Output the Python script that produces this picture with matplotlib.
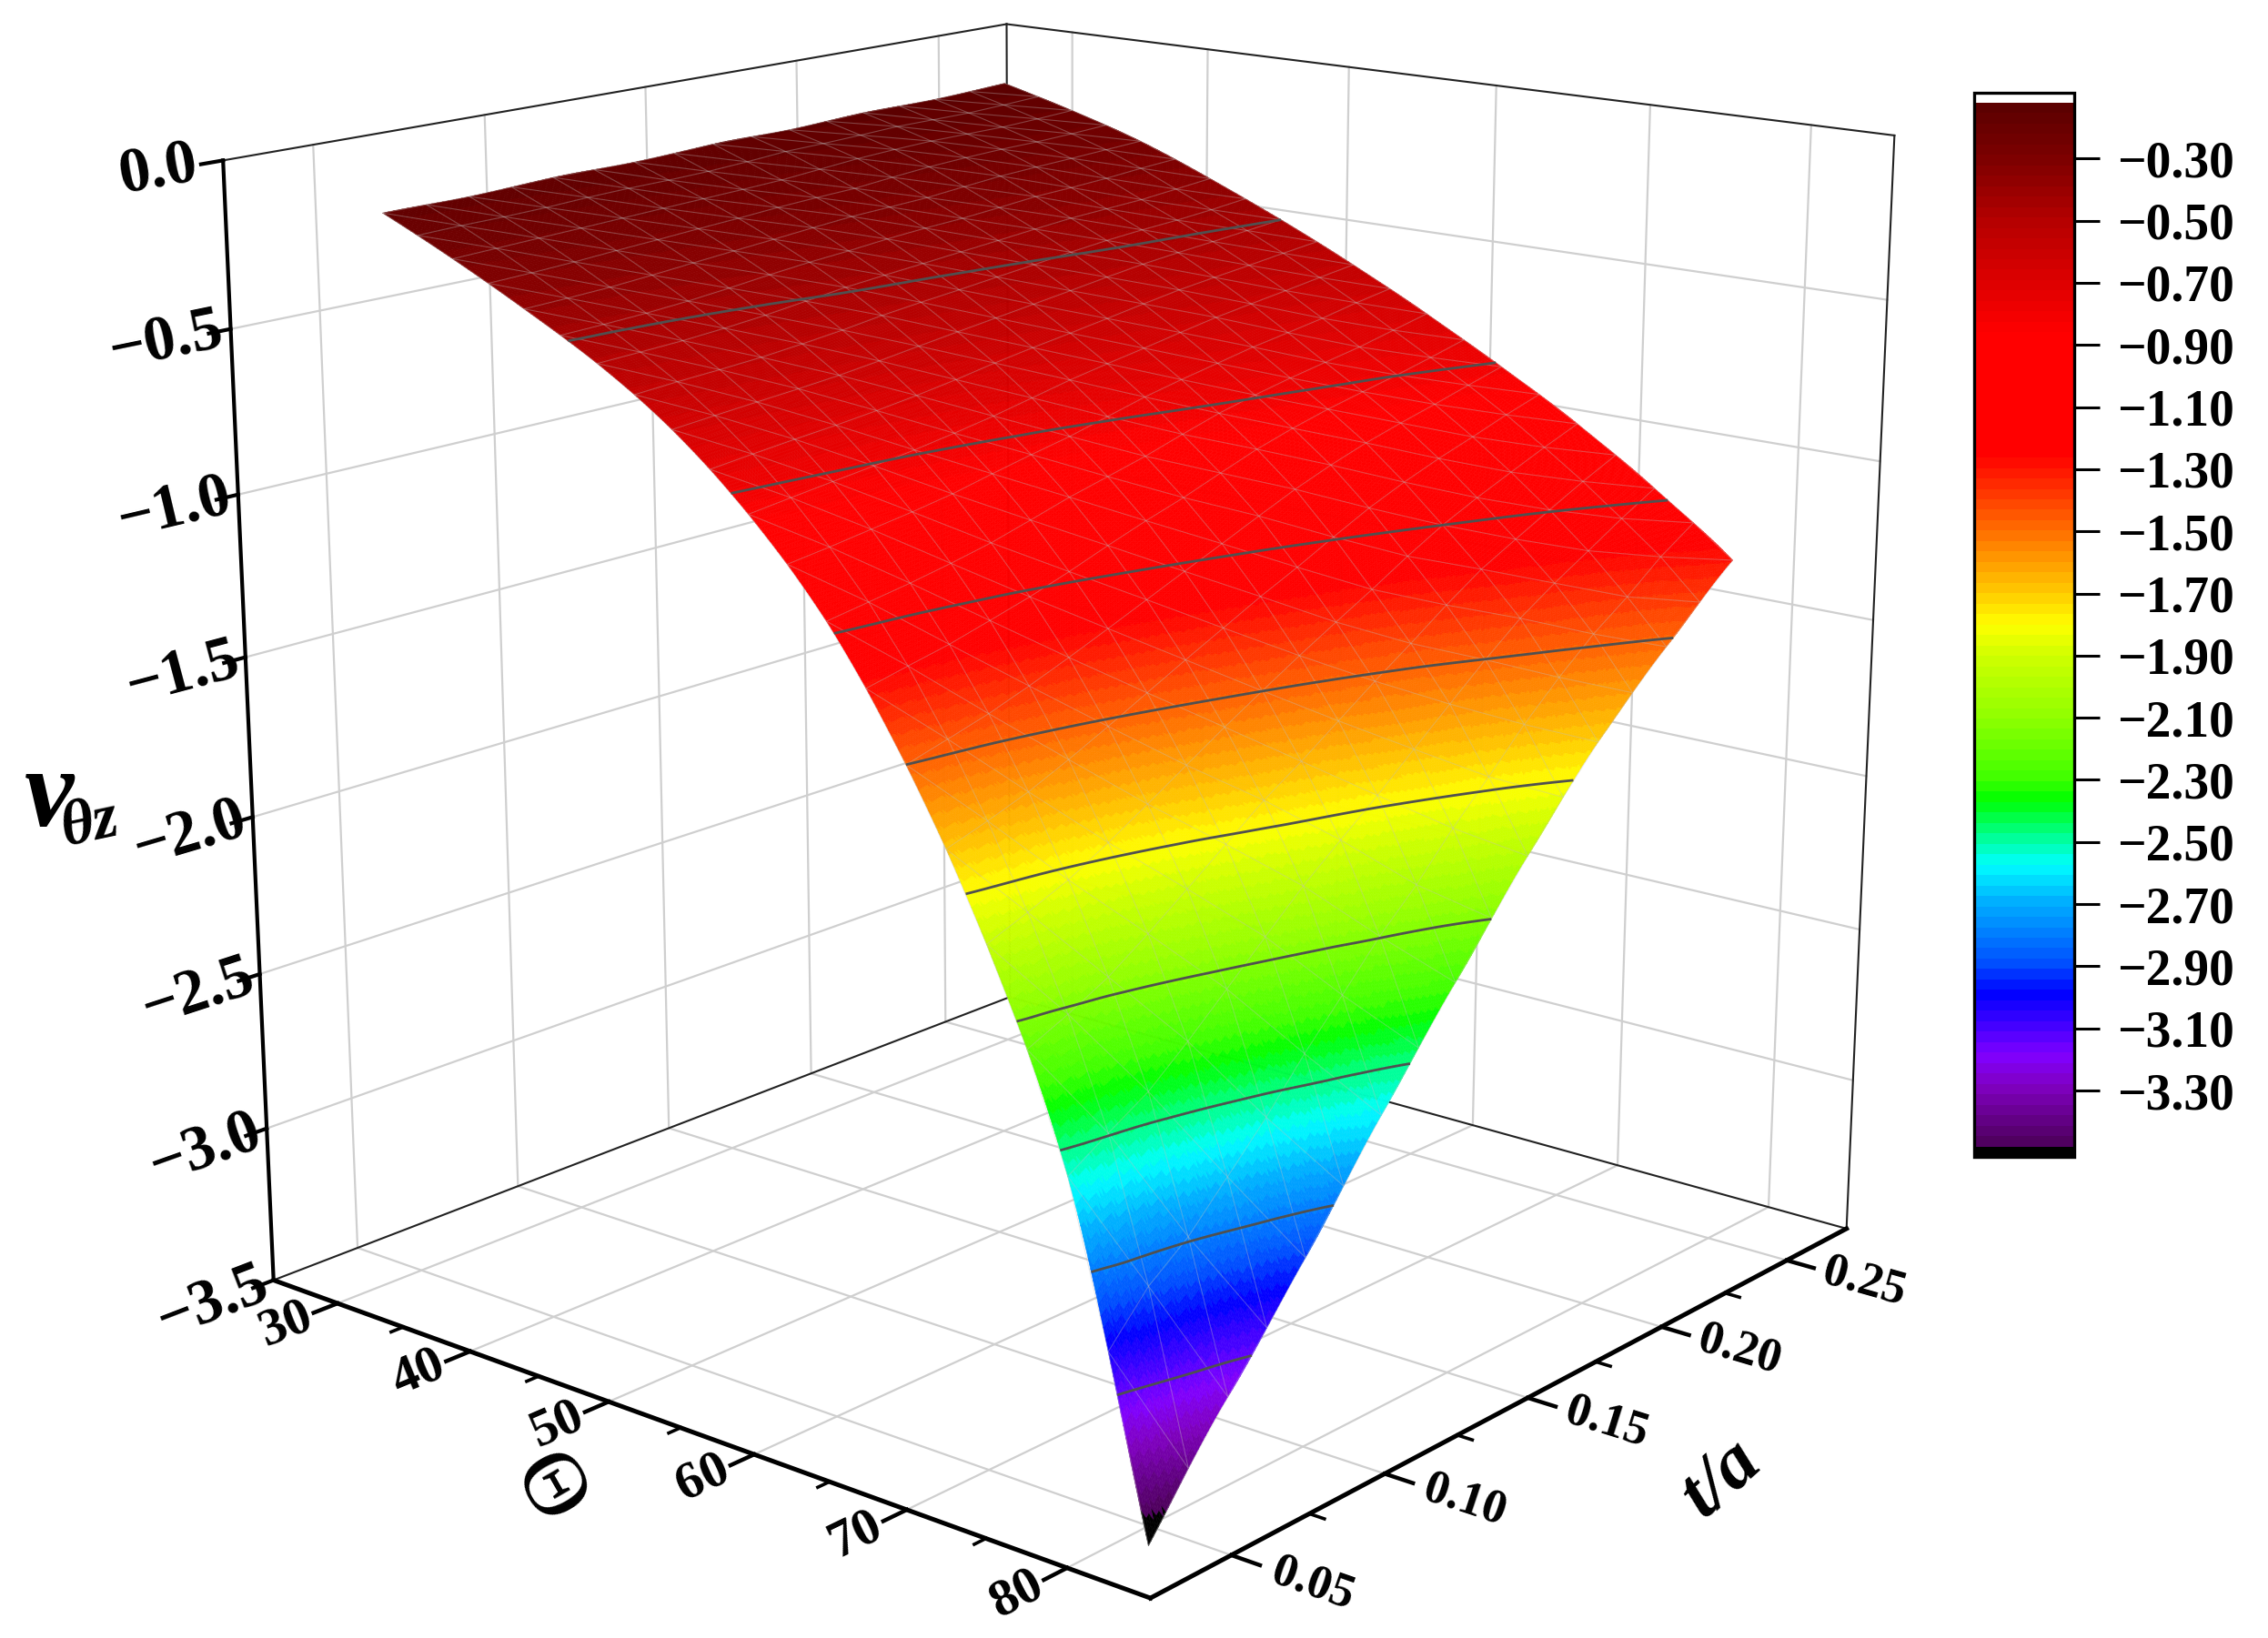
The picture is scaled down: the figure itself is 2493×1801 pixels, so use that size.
import numpy as np
import matplotlib
matplotlib.use("Agg")
import matplotlib.pyplot as plt
import matplotlib.tri as mtri
from matplotlib.colors import LinearSegmentedColormap, BoundaryNorm
from matplotlib.cm import ScalarMappable
from mpl_toolkits.mplot3d.art3d import Line3DCollection

plt.rcParams['font.family'] = ['Liberation Serif', 'DejaVu Serif']
plt.rcParams['font.weight'] = 'bold'

theta = [30, 35, 40, 45, 50, 55, 60, 65, 70, 75, 80]
t_a = [0.05, 0.075, 0.10, 0.125, 0.15, 0.175, 0.20, 0.225, 0.25]
nu = [
    [-0.17, -0.17, -0.16, -0.16, -0.15, -0.15, -0.14, -0.14, -0.13],
    [-0.27, -0.26, -0.25, -0.24, -0.23, -0.21, -0.20, -0.20, -0.19],
    [-0.38, -0.37, -0.35, -0.33, -0.31, -0.30, -0.28, -0.27, -0.26],
    [-0.50, -0.49, -0.47, -0.44, -0.42, -0.40, -0.38, -0.37, -0.35],
    [-0.65, -0.63, -0.61, -0.58, -0.55, -0.52, -0.49, -0.47, -0.45],
    [-0.85, -0.82, -0.79, -0.75, -0.70, -0.66, -0.62, -0.59, -0.56],
    [-1.11, -1.07, -1.02, -0.95, -0.89, -0.82, -0.77, -0.73, -0.68],
    [-1.47, -1.40, -1.31, -1.21, -1.11, -1.01, -0.93, -0.87, -0.81],
    [-1.93, -1.83, -1.69, -1.54, -1.40, -1.27, -1.14, -1.04, -0.95],
    [-2.54, -2.39, -2.18, -1.96, -1.77, -1.57, -1.38, -1.24, -1.11],
    [-3.56, -3.23, -2.92, -2.59, -2.28, -1.98, -1.71, -1.49, -1.29],
]
contour_levels = [-3.14, -2.80, -2.47, -2.13, -1.80, -1.47, -1.14, -0.80, -0.45]

x_major = [30, 40, 50, 60, 70, 80]
x_minor = [35, 45, 55, 65, 75]
y_major = [0.05, 0.10, 0.15, 0.20, 0.25]
y_minor = [0.075, 0.125, 0.175, 0.225]
y_labels = ['0.05', '0.10', '0.15', '0.20', '0.25']
z_major = [-3.5, -3.0, -2.5, -2.0, -1.5, -1.0, -0.5, 0.0]
z_labels = ['\u22123.5', '\u22123.0', '\u22122.5', '\u22122.0', '\u22121.5', '\u22121.0', '\u22120.5', '0.0']
cbar_ticks = [-0.30, -0.50, -0.70, -0.90, -1.10, -1.30, -1.50, -1.70, -1.90,
              -2.10, -2.30, -2.50, -2.70, -2.90, -3.10, -3.30]
cbar_labels = ['\u2212%.2f' % abs(v) for v in cbar_ticks]

# colours along the colour bar
stop_z = [-3.48, -3.3, -3.2, -3.1, -3.0, -2.9, -2.7, -2.58, -2.5, -2.37, -2.3, -2.1, -1.9, -1.8,
          -1.7, -1.5, -1.25, -0.85, -0.7, -0.5, -0.3, -0.12]
stop_c = ['#500060', '#8000c0', '#8000ff', '#4000ff', '#0000ff', '#0050ff', '#00b0ff', '#00ffff',
          '#00ffa0', '#00ff00', '#40ff00', '#90ff00', '#d0ff00', '#ffff00',
          '#ffcc00', '#ff7000', '#ff0000', '#ff0000',
          '#e00000', '#b80000', '#800000', '#5c0000']

xlo, xhi = 25, 85
ylo, yhi = 0.025, 0.275
zlo, zhi = -3.5, 0.0

zlow, zhigh = stop_z[0], stop_z[-1]
fracs = [(v - zlow) / (zhigh - zlow) for v in stop_z]
cmap = LinearSegmentedColormap.from_list('nu', list(zip(fracs, stop_c)), N=100)
cmap.set_over('white')
cmap.set_under('black')
norm = BoundaryNorm(np.linspace(zlow, zhigh, 101), 100)

fig = plt.figure(figsize=(24.93, 18.01), dpi=100)
ax = fig.add_axes([0.0339, -0.0443, 0.8527, 1.1804], projection='3d', computed_zorder=False)
ax.set_proj_type('persp', focal_length=0.5)
ax.view_init(elev=16, azim=-50)
ax.set_box_aspect((1, 1, 1.0), zoom=1.0)
ax.set_xlim(xlo, xhi, view_margin=0)
ax.set_ylim(ylo, yhi, view_margin=0)
ax.set_zlim(zlo, zhi, view_margin=0)
ax.set_axis_off()

# surface, refined by the tri module for smooth colour bands
X, Y = np.meshgrid(theta, t_a, indexing='ij')
Z = np.array(nu)
nx, ny = len(theta), len(t_a)
tris = []
for i in range(nx - 1):
    for j in range(ny - 1):
        a = i * ny + j
        tris.append([a, a + ny, a + ny + 1])
        tris.append([a, a + ny + 1, a + 1])
# scaled plane so the cubic fit is not skewed by the units
tri0 = mtri.Triangulation(X.ravel() / 50, Y.ravel() / 0.2, tris)
interp = mtri.CubicTriInterpolator(tri0, Z.ravel(), kind='geom')
refiner = mtri.UniformTriRefiner(tri0)
fine, z_fine = refiner.refine_field(Z.ravel(), triinterpolator=interp, subdiv=5)
mesh, z_mesh = refiner.refine_field(Z.ravel(), triinterpolator=interp, subdiv=1)
fine3 = mtri.Triangulation(fine.x * 50, fine.y * 0.2, fine.triangles)

# walls and floor grid
gc = '#cfcfcf'
glw = 1.6
for v in x_major:
    ax.plot([v, v], [ylo, yhi], [zlo, zlo], color=gc, lw=glw, zorder=1)
    ax.plot([v, v], [yhi, yhi], [zlo, zhi], color=gc, lw=glw, zorder=1)
for v in y_major:
    ax.plot([xlo, xhi], [v, v], [zlo, zlo], color=gc, lw=glw, zorder=1)
    ax.plot([xlo, xlo], [v, v], [zlo, zhi], color=gc, lw=glw, zorder=1)
for v in z_major[1:-1]:
    ax.plot([xlo, xlo], [ylo, yhi], [v, v], color=gc, lw=glw, zorder=1)
    ax.plot([xlo, xhi], [yhi, yhi], [v, v], color=gc, lw=glw, zorder=1)

# thin box edges
for a, b, c in [([xlo, xlo], [ylo, yhi], [zhi, zhi]), ([xlo, xhi], [yhi, yhi], [zhi, zhi]),
                ([xlo, xlo], [ylo, yhi], [zlo, zlo]), ([xlo, xhi], [yhi, yhi], [zlo, zlo]),
                ([xlo, xlo], [yhi, yhi], [zlo, zhi]), ([xhi, xhi], [yhi, yhi], [zlo, zhi])]:
    ax.plot(a, b, c, color='#222222', lw=1.5, zorder=2)

surf = ax.plot_trisurf(fine3, z_fine, cmap=cmap, norm=norm, linewidth=0.4,
                       antialiased=True, zorder=3)
surf.set_edgecolor('face')

segs = []
for i, j in mesh.edges:
    segs.append([(mesh.x[i] * 50, mesh.y[i] * 0.2, z_mesh[i]),
                 (mesh.x[j] * 50, mesh.y[j] * 0.2, z_mesh[j])])
ax.add_collection3d(Line3DCollection(segs, colors='#c0c0c0', linewidths=0.8, alpha=0.35, zorder=4))

ax.tricontour(fine3, z_fine, levels=contour_levels, colors='#505050', linewidths=2.0,
              linestyles='solid', zorder=5)

# heavy axes
ax.plot([xlo, xhi], [ylo, ylo], [zlo, zlo], color='k', lw=3.6, zorder=6)
ax.plot([xhi, xhi], [ylo, yhi], [zlo, zlo], color='k', lw=3.6, zorder=6)
ax.plot([xlo, xlo], [ylo, ylo], [zlo, zhi], color='k', lw=3.0, zorder=6)

for v in x_major:
    ax.plot([v, v], [ylo, ylo - 0.007], [zlo, zlo], color='k', lw=3.2, zorder=6)
    ax.text(v, ylo - 0.015, zlo, str(v), zdir='y', fontsize=42, ha='center', va='center')
for v in x_minor:
    ax.plot([v, v], [ylo, ylo - 0.0035], [zlo, zlo], color='k', lw=2.6, zorder=6)
for v, s in zip(y_major, y_labels):
    ax.plot([xhi, xhi + 1.7], [v, v], [zlo, zlo], color='k', lw=3.2, zorder=6)
    ax.text(xhi + 4.8, v, zlo, s, zdir='x', fontsize=38, ha='center', va='center')
for v in y_minor:
    ax.plot([xhi, xhi + 0.9], [v, v], [zlo, zlo], color='k', lw=2.6, zorder=6)
for v, s in zip(z_major, z_labels):
    ax.plot([xlo, xlo], [ylo, ylo - 0.006], [v, v], color='k', lw=3.0, zorder=6)
    ax.text(xlo, ylo - 0.0175, v, s, zdir='y', fontsize=50, ha='center', va='center')

fig.text(0.0215, 0.512, '\u03bd', fontsize=88, style='italic', ha='center', va='center')
fig.text(0.0395, 0.497, '\u03b8z', fontsize=50, style='italic', rotation=12, ha='center', va='center')
fig.text(0.241, 0.090, '\u0398', fontsize=72, fontweight='normal', rotation=-60, ha='center', va='center')
fig.text(0.759, 0.097, 't/a', fontsize=60, style='italic', rotation=42, ha='center', va='center')

# colour bar
cax = fig.add_axes([1365 / 1568, (1133 - 800) / 1133, 69 / 1568, 736 / 1133])
cb = fig.colorbar(ScalarMappable(norm=norm, cmap=cmap), cax=cax, extend='both',
                  extendrect=True, extendfrac=0.0097, spacing='proportional', drawedges=False)
cb.set_ticks(cbar_ticks, labels=cbar_labels)
cb.minorticks_off()
cb.ax.tick_params(axis='y', length=20, width=2.2, pad=14, labelsize=40)
cb.outline.set_linewidth(2.4)

fig.savefig('out.png', dpi=100)
